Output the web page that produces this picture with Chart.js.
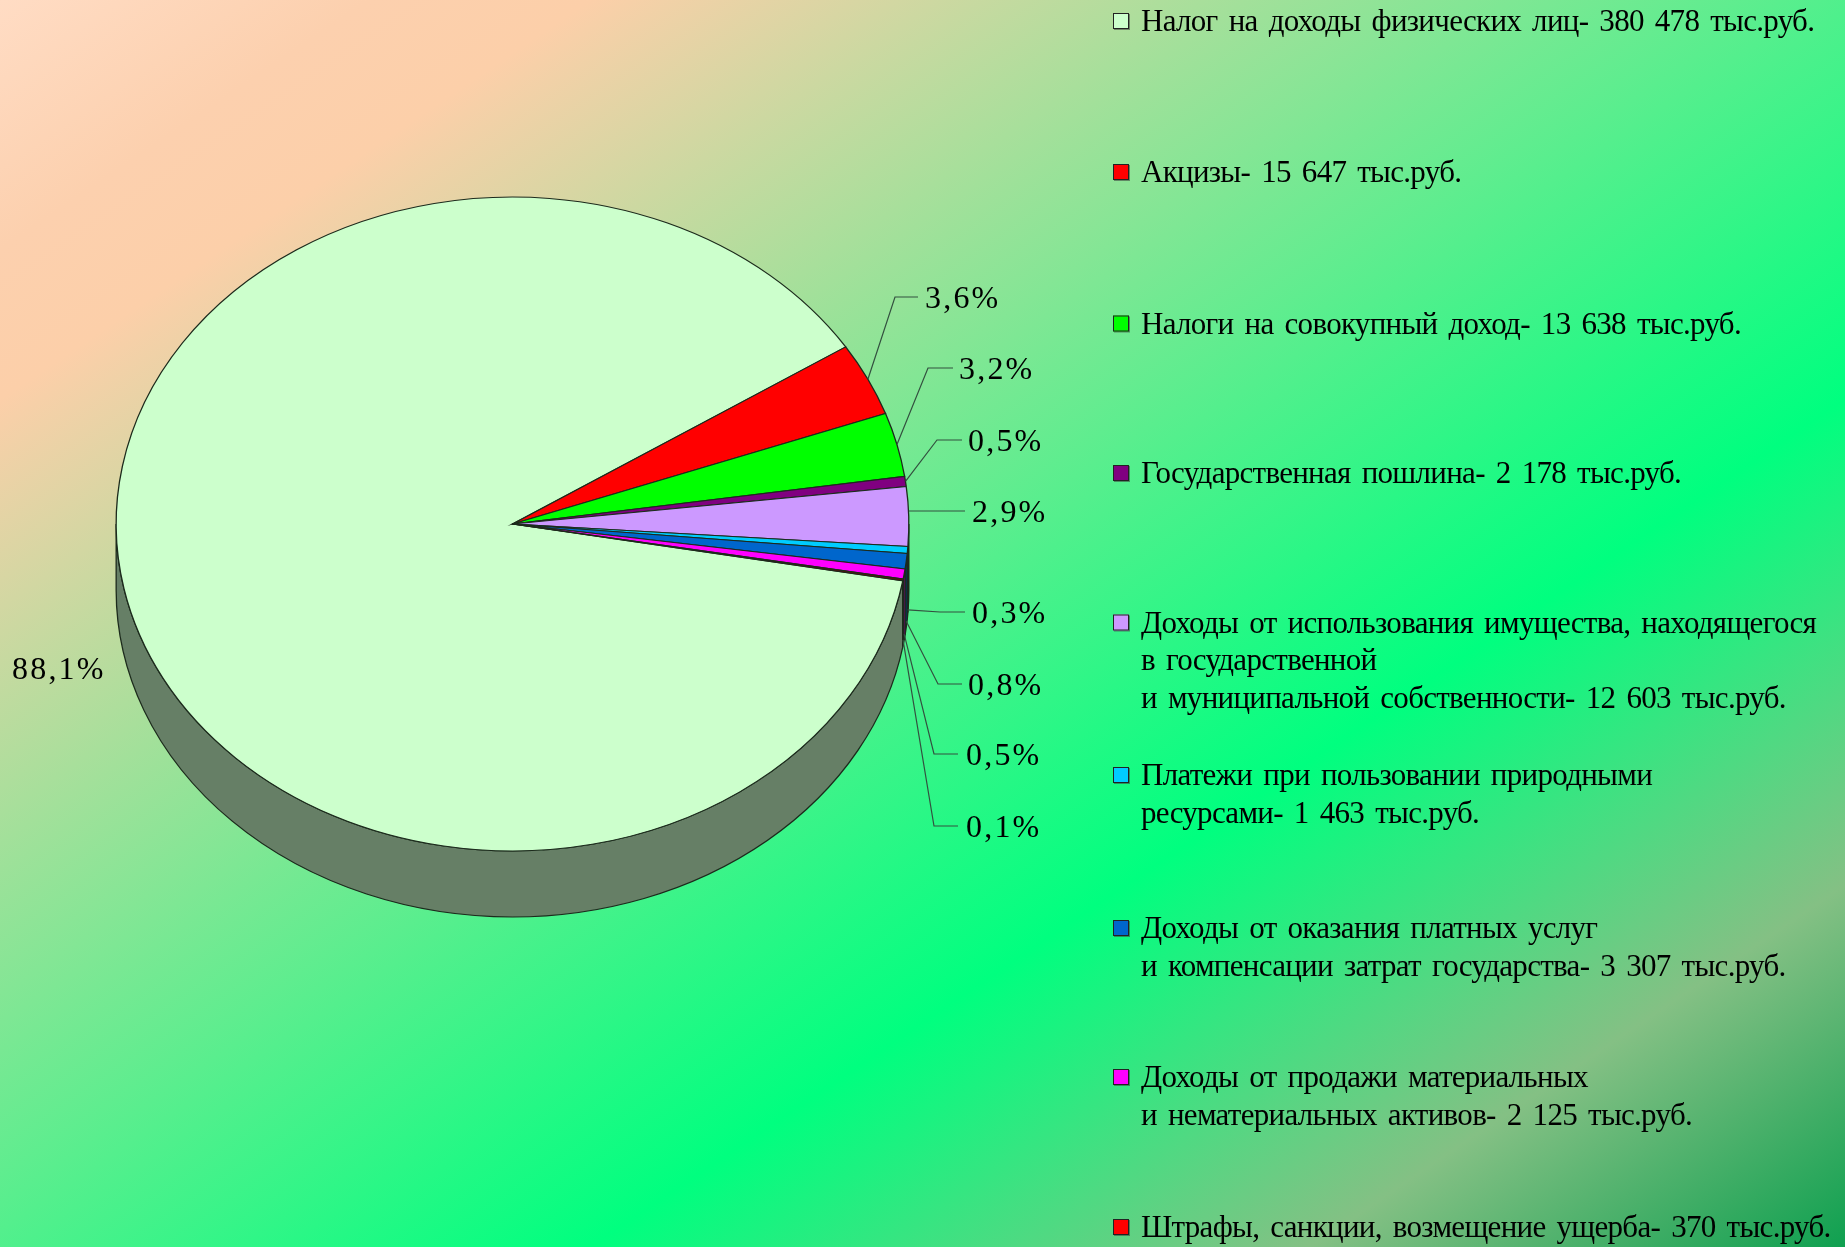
<!DOCTYPE html>
<html><head><meta charset="utf-8">
<script src="https://cdn.jsdelivr.net/npm/chart.js@4/dist/chart.umd.js"></script>
<style>
html,body{margin:0;padding:0;width:1845px;height:1247px;overflow:hidden}
body{background:linear-gradient(to bottom right,#ffdcc4 0%,#fcd0ae 10%,#fccfa9 16%,#00ff7f 66%,#84c084 85.5%,#0fa050 100%)}
#w{position:absolute;left:0;top:0;width:1845px;height:1247px}
</style></head><body>
<div id="w"><canvas id="c" width="1845" height="1247"></canvas></div>
<script>
const categories=["Налог на доходы физических лиц","Акцизы","Налоги на совокупный доход","Государственная пошлина","Доходы от использования имущества, находящегося в государственной и муниципальной собственности","Платежи при пользовании природными ресурсами","Доходы от оказания платных услуг и компенсации затрат государства","Доходы от продажи материальных и нематериальных активов","Штрафы, санкции, возмещение ущерба"];
const values=[380478,15647,13638,2178,12603,1463,3307,2125,370];
const percentLabels=["88,1%","3,6%","3,2%","0,5%","2,9%","0,3%","0,8%","0,5%","0,1%"];
const sliceColors=["#CCFFCC","#FF0000","#00FF00","#800080","#CC99FF","#00CCFF","#0066CC","#FF00FF","#800000"];
const legendColors=["#CCFFCC","#FF0000","#00FF00","#800080","#CC99FF","#00CCFF","#0066CC","#FF00FF","#FF0000"];
const legendLines=[
 ["Налог на доходы физических лиц- 380 478 тыс.руб."],
 ["Акцизы- 15 647 тыс.руб."],
 ["Налоги на совокупный доход- 13 638 тыс.руб."],
 ["Государственная пошлина- 2 178 тыс.руб."],
 ["Доходы от использования имущества, находящегося","в государственной","и муниципальной собственности- 12 603 тыс.руб."],
 ["Платежи при пользовании природными","ресурсами- 1 463 тыс.руб."],
 ["Доходы от оказания платных услуг","и компенсации затрат государства- 3 307 тыс.руб."],
 ["Доходы от продажи материальных","и нематериальных активов- 2 125 тыс.руб."],
 ["Штрафы, санкции, возмещение ущерба- 370 тыс.руб."]
];
// layout (not data)
const legendFirstLineY=[23,174,325.5,475,624.5,777,930,1079,1229];
const legendLineStep=37.8, legendTextX=1141, legendMarkerX=1113, legendMarkerSize=16;
const labelX=[12,925,959,968,972,972,968,966,966];
const labelY=[671,300,371,443,514,615,687,757,829];
const elbowX=[null,895,928,937,null,940,938,934,934];
const lineEndX=[null,918,953,962,965,965,962,958,958];
const squash=0.825, depth=66;
const font='31px "Liberation Serif"';
const labelFont='32px "Liberation Serif"';

function darker(h){const n=parseInt(h.slice(1),16);return `rgb(${(n>>16)>>1},${((n>>8)&255)>>1},${(n&255)>>1})`;}
const pie3d={id:'pie3d',
 beforeDatasetsDraw(ch){
  const ctx=ch.ctx,arcs=ch.getDatasetMeta(0).data,cy=arcs[0].y;
  ctx.save();
  ctx.translate(0,cy);ctx.scale(1,squash);ctx.translate(0,-cy);
  arcs.forEach((a,i)=>{
   const s0=a.startAngle, e0=a.endAngle;
   [0,-2*Math.PI,2*Math.PI].forEach(sh=>{
    const s=Math.max(s0+sh,0),e=Math.min(e0+sh,Math.PI);
    if(e<=s)return;
    const d=depth/squash;
    ctx.beginPath();
    ctx.arc(a.x,a.y,a.outerRadius,s,e);
    ctx.arc(a.x,a.y+d,a.outerRadius,e,s,true);
    ctx.closePath();
    ctx.fillStyle=darker(sliceColors[i]);
    ctx.fill();
    ctx.lineWidth=1.3;ctx.strokeStyle='#1c2a1c';ctx.stroke();
   });
  });
 },
 afterDatasetsDraw(ch){ch.ctx.restore();},
 afterDraw(ch){
  const ctx=ch.ctx,arcs=ch.getDatasetMeta(0).data;
  ctx.save();
  ctx.font=labelFont;ctx.fillStyle='#000';ctx.textBaseline='middle';ctx.textAlign='left';
  ctx.letterSpacing='2.2px';
  arcs.forEach((a,i)=>{
   ctx.fillText(percentLabels[i],labelX[i],labelY[i]);
   if(lineEndX[i]===null)return;
   const m=(a.startAngle+a.endAngle)/2;
   const ax=a.x+a.outerRadius*Math.cos(m);
   let ay=a.y+a.outerRadius*squash*Math.sin(m);
   if(Math.sin(m)>0)ay+=depth-6;
   if(elbowX[i]===null)ay=labelY[i]-3;
   ctx.beginPath();ctx.moveTo(lineEndX[i],labelY[i]-3);
   if(elbowX[i]!==null)ctx.lineTo(elbowX[i],labelY[i]-3);
   ctx.lineTo(ax,ay);
   ctx.lineWidth=1.2;ctx.strokeStyle='#33503f';ctx.stroke();
  });
  ctx.font=font;
  legendLines.forEach((ls,i)=>{
   const y=legendFirstLineY[i]-2,c=legendColors[i];
   ctx.fillStyle='rgba(60,60,60,.55)';ctx.fillRect(legendMarkerX+1,y-8+1,legendMarkerSize,legendMarkerSize);
   ctx.fillStyle=c;ctx.fillRect(legendMarkerX,y-8,legendMarkerSize,legendMarkerSize);
   ctx.strokeStyle='#222';ctx.lineWidth=1;ctx.strokeRect(legendMarkerX+.5,y-7.5,legendMarkerSize-1,legendMarkerSize-1);
   ctx.fillStyle='#000';
   ctx.letterSpacing='-0.7px';ctx.wordSpacing='4px';
   ls.forEach((t,j)=>ctx.fillText(t,legendTextX,y+2+j*legendLineStep));
  });
  ctx.restore();
 }
};
new Chart(document.getElementById('c'),{
 type:'pie',
 data:{labels:categories,datasets:[{data:values,backgroundColor:sliceColors,borderColor:'#1c2a1c',borderWidth:1.3,borderJoinStyle:'miter',clip:false}]},
 plugins:[pie3d],
 options:{responsive:false,animation:false,rotation:100,
  layout:{padding:{left:115.5,right:935.5,top:127,bottom:326}},
  events:[],
  plugins:{legend:{display:false},tooltip:{enabled:false},title:{display:false}}}
});
</script></body></html>
